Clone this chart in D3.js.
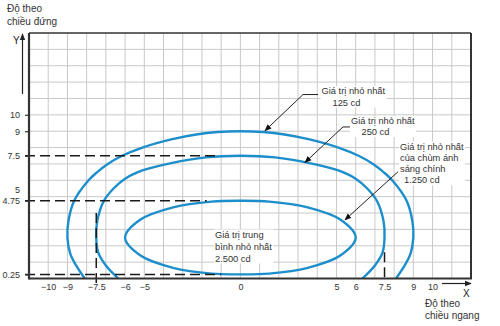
<!DOCTYPE html>
<html><head><meta charset="utf-8">
<script src="https://cdn.jsdelivr.net/npm/d3@7"></script>
<style>
html,body{margin:0;padding:0;background:#fff;}
text{font-family:"Liberation Sans",Arial,sans-serif;}
</style></head>
<body><svg id="c" width="500" height="326"></svg>
<script>
// ---- data ----
const xTicks = [-10, -9, -7.5, -6, -5, 0, 5, 6, 7.5, 9, 10];
const yTicks = [10, 9, 7.5, 5, 4.75, 0.25];
// outer curve: 125 cd
const curve125 = [[-8.1,0],[-8.55,0.8],[-8.85,1.5],[-9,2.5],[-8.95,3.5],[-8.65,4.75],[-7.9,6],[-7.45,6.5],[-6.9,7],[-6.15,7.5],[-5.1,8],[-3.6,8.5],[-2.3,8.8],[-1.2,8.95],[0,9],
  [1.2,8.95],[2.3,8.8],[3.6,8.5],[5.1,8],[6.15,7.5],[6.9,7],[7.45,6.5],[7.9,6],[8.65,4.75],[8.95,3.5],[9,2.5],[8.85,1.5],[8.55,0.8],[8.1,0]];
// middle curve: 250 cd
const curve250 = [[-6.35,0],[-7.0,0.8],[-7.4,1.6],[-7.5,2.5],[-7.45,3.5],[-7.1,4.75],[-6.6,5.5],[-6.0,6.1],[-5.1,6.6],[-3.6,7.05],[-1.8,7.4],[0,7.5],
  [1.8,7.4],[3.6,7.05],[5.1,6.6],[6.0,6.1],[6.6,5.5],[7.1,4.75],[7.45,3.5],[7.5,2.5],[7.4,1.6],[7.0,0.8],[6.35,0]];
// inner closed curve: 2500 cd
const curve2500 = [[-6,2.5],[-5.2,3.6],[-3.5,4.35],[-1.5,4.7],[0,4.75],[1.5,4.7],[3.5,4.35],[5.2,3.6],[6,2.5],[5.2,1.4],[3.5,0.65],[1.5,0.3],[0,0.25],[-1.5,0.3],[-3.5,0.65],[-5.2,1.4]];
// reference dashed lines
const hRefs = [[7.5,-1.2],[4.75,-1.75],[0.25,-1.0]];   // [y, x end]
const vRefs = [[-7.5,4.0,-0.3],[7.5,1.6,0]];           // [x, y top, y bottom]

const svg = d3.select("#c");
const x = d3.scaleLinear().domain([-11, 12]).range([29, 471]);
const y = d3.scaleLinear().domain([0, 15]).range([278.5, 33]);

// grid
const g = svg.append("g");
g.selectAll(".gx").data(d3.range(-10, 12)).join("line")
  .attr("x1", d=>x(d)).attr("x2", d=>x(d)).attr("y1", y(15)).attr("y2", y(0))
  .attr("stroke", "#c9c9c9").attr("stroke-width", 1);
g.selectAll(".gy").data(d3.range(1, 15)).join("line")
  .attr("x1", x(-11)).attr("x2", x(12)).attr("y1", d=>y(d)).attr("y2", d=>y(d))
  .attr("stroke", "#c9c9c9").attr("stroke-width", 1);

// border
svg.append("line").attr("x1", x(-11)).attr("x2", x(12)).attr("y1", y(15)).attr("y2", y(15)).attr("stroke", "#333").attr("stroke-width", 1.4);
svg.append("line").attr("x1", x(12)).attr("x2", x(12)).attr("y1", y(15)).attr("y2", y(0)).attr("stroke", "#333").attr("stroke-width", 2);

// curves
const line = d3.line().x(d=>x(d[0])).y(d=>y(d[1]));
const blue = "#1d8ecc";
svg.append("path").datum(curve125).attr("d", line.curve(d3.curveCatmullRom.alpha(0.5)))
  .attr("fill","none").attr("stroke",blue).attr("stroke-width",2.4);
svg.append("path").datum(curve250).attr("d", line.curve(d3.curveCatmullRom.alpha(0.5)))
  .attr("fill","none").attr("stroke",blue).attr("stroke-width",2.4);
svg.append("path").datum(curve2500).attr("d", line.curve(d3.curveCatmullRomClosed.alpha(0.5)))
  .attr("fill","none").attr("stroke",blue).attr("stroke-width",2.4);

// dashed reference lines
svg.selectAll(".hr").data(hRefs).join("line")
  .attr("x1", x(-11)-4).attr("x2", d=>x(d[1])).attr("y1", d=>y(d[0])).attr("y2", d=>y(d[0]))
  .attr("stroke","#1a1a1a").attr("stroke-width",1.5).attr("stroke-dasharray","10,5");
svg.selectAll(".vr").data(vRefs).join("line")
  .attr("x1", d=>x(d[0])).attr("x2", d=>x(d[0])).attr("y1", d=>y(d[1])).attr("y2", d=>y(d[2]))
  .attr("stroke","#1a1a1a").attr("stroke-width",1.5).attr("stroke-dasharray","10,5");

// axes
const fmt = d => (d < 0 ? "\u2212" + Math.abs(d) : String(d));
const xa = svg.append("g").attr("transform", `translate(0,${y(0)})`)
  .call(d3.axisBottom(x).tickValues(xTicks).tickFormat(fmt).tickSize(0).tickPadding(5));
xa.select(".domain").remove();
xa.selectAll("text").attr("font-size", 9).attr("fill", "#333").attr("font-family","Liberation Sans, Arial, sans-serif");
const ya = svg.append("g").attr("transform", `translate(${x(-11)},0)`)
  .call(d3.axisLeft(y).tickValues(yTicks).tickFormat(d=>String(d)).tickSize(4).tickPadding(5));
ya.select(".domain").remove();
ya.selectAll("line").attr("stroke","#333").attr("stroke-width",1.2).attr("opacity", d => (d===5 ? 0 : 1));
ya.selectAll("text").attr("font-size", 9).attr("fill", "#333").attr("font-family","Liberation Sans, Arial, sans-serif")
  .attr("dy", d => d===5 ? "-0.5em" : "0.32em");

svg.append("line").attr("x1", x(-11)).attr("x2", x(-11)).attr("y1", y(15)).attr("y2", y(0)+1).attr("stroke","#333").attr("stroke-width",2.2);
svg.append("line").attr("x1", x(-11)).attr("x2", x(12)+1).attr("y1", y(0)).attr("y2", y(0)).attr("stroke","#333").attr("stroke-width",2.2);

// arrow markers
const defs = svg.append("defs");
defs.append("marker").attr("id","ah").attr("viewBox","0 0 10 10").attr("refX",9).attr("refY",5)
  .attr("markerWidth",7).attr("markerHeight",7).attr("orient","auto")
  .append("path").attr("d","M0,1 L10,5 L0,9 Z").attr("fill","#111");
defs.append("marker").attr("id","ah2").attr("viewBox","0 0 10 10").attr("refX",9).attr("refY",5)
  .attr("markerWidth",6).attr("markerHeight",6).attr("orient","auto")
  .append("path").attr("d","M0,1 L10,5 L0,9 Z").attr("fill","#222");

// axis arrows & titles
svg.append("line").attr("x1",22.5).attr("x2",22.5).attr("y1",94).attr("y2",34)
  .attr("stroke","#222").attr("stroke-width",1.2).attr("marker-end","url(#ah2)");
svg.append("text").attr("x",13).attr("y",44).attr("font-size",10).attr("fill","#222").text("Y");
svg.append("line").attr("x1",442).attr("x2",471).attr("y1",283.5).attr("y2",283.5)
  .attr("stroke","#222").attr("stroke-width",1.2).attr("marker-end","url(#ah2)");
svg.append("text").attr("x",463).attr("y",297).attr("font-size",10).attr("fill","#222").text("X");

const title = (lines, x0, y0, lh) => {
  const t = svg.append("text").attr("font-size",10).attr("fill","#333");
  lines.forEach((s,i)=> t.append("tspan").attr("x",x0).attr("y",y0+i*lh).text(s));
};
title(["Độ theo","chiều đứng"], 7, 12, 12.5);
title(["Độ theo","chiều ngang"], 425, 307, 11.5);

// annotations
const annot = (lines, x0, y0, lh, offs) => {
  const grp = svg.append("g");
  const rect = grp.append("rect").attr("fill","#fff");
  const t = grp.append("text").attr("font-size",9.3).attr("fill","#333");
  lines.forEach((s,i)=> t.append("tspan").attr("x",x0+(offs[i]||0)).attr("y",y0+i*lh).text(s));
  const b = t.node().getBBox();
  rect.attr("x",b.x-1).attr("y",b.y).attr("width",b.width+2).attr("height",b.height);
};
annot(["Giá trị nhỏ nhất","125 cd"], 321.5, 94, 11.5, [0, 11]);
annot(["Giá trị nhỏ nhất","250 cd"], 351, 124, 11, [0, 10.5]);
annot(["Giá trị nhỏ nhất","của chùm ánh","sáng chính","1.250 cd"], 400, 149.5, 11.3, [0,0,0,4]);
annot(["Giá trị trung","bình nhỏ nhất","2.500 cd"], 215, 237.5, 12, [0,0,0]);

const leader = (pts) => svg.append("path")
  .attr("d", d3.line().x(d=>x(d[0])).y(d=>y(d[1]))(pts))
  .attr("fill","none").attr("stroke","#222").attr("stroke-width",1).attr("marker-end","url(#ah)");
leader([[4.04,11.24],[3.26,11.24],[1.28,9.03]]);
leader([[5.70,9.26],[5.34,9.26],[3.36,7.09]]);
leader([[8.2,6.52],[5.44,3.58]]);
</script></body></html>
